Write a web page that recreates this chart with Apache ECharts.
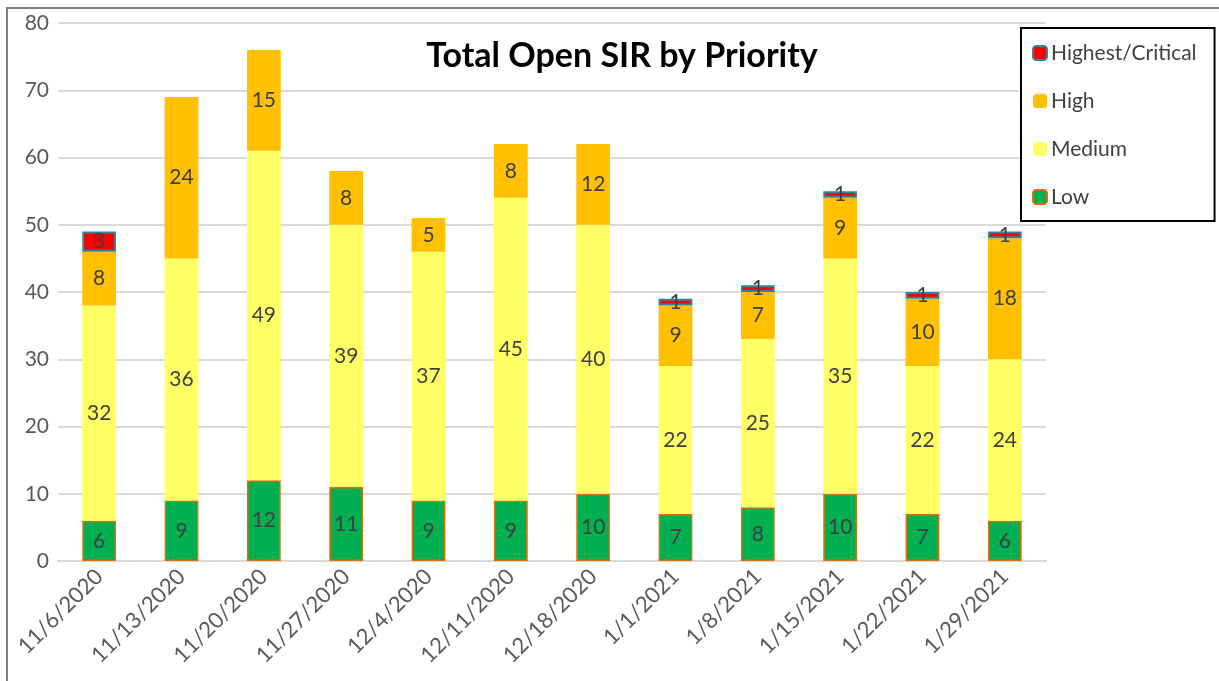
<!DOCTYPE html>
<html>
<head>
<meta charset="utf-8">
<script src="https://cdn.jsdelivr.net/npm/echarts@6/dist/echarts.min.js"></script>
<style>
  html, body { margin: 0; padding: 0; background: #fff; }
  #main { width: 1219px; height: 681px; }
</style>
</head>
<body>
<div id="main"></div>
<script>
// 数据
var dates = ['11/6/2020', '11/13/2020', '11/20/2020', '11/27/2020', '12/4/2020', '12/11/2020',
  '12/18/2020', '1/1/2021', '1/8/2021', '1/15/2021', '1/22/2021', '1/29/2021'];
var low = [6, 9, 12, 11, 9, 9, 10, 7, 8, 10, 7, 6];
var medium = [32, 36, 49, 39, 37, 45, 40, 22, 25, 35, 22, 24];
var high = [8, 24, 15, 8, 5, 8, 12, 9, 7, 9, 10, 18];
var critical = [3, 0, 0, 0, 0, 0, 0, 1, 1, 1, 1, 1];
var yTicks = [0, 10, 20, 30, 40, 50, 60, 70, 80];

var font = 'Lato, "Open Sans", sans-serif';

function seg(name, data, color, border, bw) {
  return {
    name: name,
    type: 'bar',
    stack: 'total',
    barWidth: '41%',
    data: data.map(function (v) { return v === 0 ? null : v; }),
    itemStyle: { color: color, borderColor: border, borderWidth: bw },
    label: {
      show: true,
      position: 'inside',
      color: '#404040',
      fontSize: 21,
      fontFamily: font
    }
  };
}

var myChart = echarts.init(document.getElementById('main'));

var option = {
  animation: false,
  title: {
    text: 'Total Open SIR by Priority',
    left: 617,
    top: 34,
    textAlign: 'center',
    textStyle: { fontSize: 34, fontWeight: 'bold', color: '#000', fontFamily: font }
  },
  graphic: [{
    type: 'rect',
    shape: { x: 7, y: 8, width: 1230, height: 700 },
    style: { fill: 'none', stroke: '#7f7f7f', lineWidth: 2 },
    silent: true
  }],
  legend: {
    data: ['Highest/Critical', 'High', 'Medium', 'Low'],
    orient: 'vertical',
    left: 1021,
    top: 28,
    padding: [14, 18, 13, 11],
    itemGap: 26,
    itemWidth: 14,
    itemHeight: 14,
    borderColor: '#000',
    borderWidth: 2,
    backgroundColor: '#fff',
    textStyle: { fontSize: 21, lineHeight: 22, color: '#404040', fontFamily: font, padding: [0, 0, 0, -1] }
  },
  grid: { left: 58, right: 173, top: 23, bottom: 120 },
  xAxis: {
    type: 'category',
    data: dates,
    axisTick: { show: false },
    axisLine: { lineStyle: { color: '#d9d9d9', width: 2 } },
    axisLabel: { rotate: 45, fontSize: 22, color: '#595959', fontFamily: font, margin: 12 }
  },
  yAxis: {
    type: 'value',
    min: yTicks[0],
    max: yTicks[yTicks.length - 1],
    interval: 10,
    axisLine: { show: false },
    axisTick: { show: false },
    splitLine: { lineStyle: { color: '#d9d9d9', width: 2 } },
    axisLabel: { fontSize: 21, color: '#595959', fontFamily: font, margin: 9 }
  },
  series: [
    seg('Low', low, '#00b050', '#e26b0a', 1.5),
    seg('Medium', medium, '#ffff66', '#ffff66', 0),
    seg('High', high, '#ffc000', '#ffc000', 0),
    seg('Highest/Critical', critical, '#ff0000', '#31849b', 2)
  ]
};

myChart.setOption(option);
</script>
</body>
</html>
